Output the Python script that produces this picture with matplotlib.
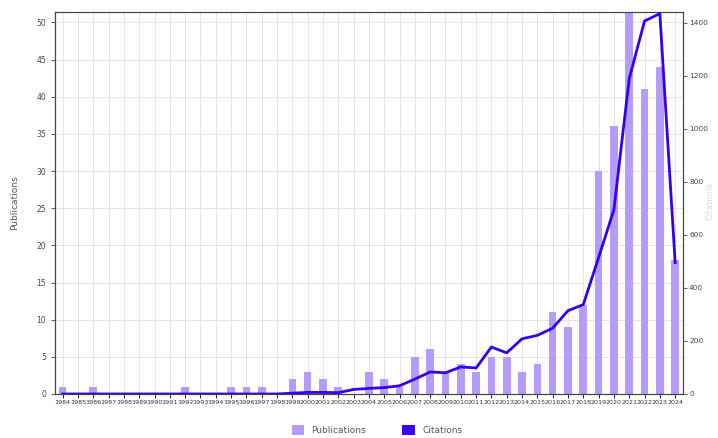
import matplotlib
matplotlib.use("Agg")
import matplotlib.pyplot as plt
from matplotlib.patches import Patch
import numpy as np

years = [str(y) for y in range(1984, 2025)]
publications = [1, 0, 1, 0, 0, 0, 0, 0, 1, 0, 0, 1, 1, 1, 0, 2, 3, 2, 1, 0,
                3, 2, 1, 5, 6, 3, 4, 3, 5, 5, 3, 4, 11, 9, 12, 30, 36, 56, 41, 44, 18]
citations = [0, 0, 0, 0, 0, 0, 0, 0, 0, 0, 0, 0, 0, 0, 0, 3, 6, 6, 5, 17,
             21, 24, 31, 56, 83, 80, 102, 98, 177, 155, 208, 221, 248, 314, 337, 514, 695, 1188, 1406, 1434, 495]

bar_color = "#b49cf8"
line_color = "#3300f0"

fig = plt.figure(figsize=(7.18, 4.38), dpi=100)
ax = fig.add_axes([0.0766, 0.1005, 0.8744, 0.8721])
x = np.arange(len(years))
ax.bar(x, publications, width=0.5, color=bar_color, zorder=2)
ax.set_xlim(-0.5, len(years) - 0.5)
ax.set_ylim(0, 51.4)
ax.set_yticks(range(0, 51, 5))
ax.set_xticks(x)
ax.set_xticklabels(years, fontsize=4.6, color="#333333")
ax.tick_params(axis="y", labelsize=5.5, colors="#444444", length=3, width=0.6)
ax.tick_params(axis="x", length=3, width=0.6, pad=1)
ax.grid(True, color="#e3e3e3", linewidth=0.7, zorder=0)
ax.set_axisbelow(True)
ax.set_ylabel("Publications", fontsize=6.5, color="#555555", labelpad=12)
for s in ax.spines.values():
    s.set_color("#444444")
    s.set_linewidth(0.8)

ax2 = ax.twinx()
ax2.plot(x, citations, color=line_color, linewidth=2.0, zorder=3)
ax2.set_ylim(0, 1440)
ax2.set_yticks(range(0, 1401, 200))
ax2.tick_params(axis="y", labelsize=5.3, colors="#444444", length=3, width=0.6, pad=1.5)
for s in ax2.spines.values():
    s.set_color("#444444")
    s.set_linewidth(0.8)
fig.text(0.989, 0.54, "Citations", rotation=90, fontsize=6.2, color="#dddddd",
         ha="center", va="center")

handles = [Patch(facecolor=bar_color, label="Publications"),
           Patch(facecolor="#3a00ff", label="Citations")]
fig.legend(handles=handles, loc="lower center", bbox_to_anchor=(0.525, -0.012), ncol=2,
           frameon=False, fontsize=6.5, handlelength=1.4, handleheight=1.4,
           columnspacing=4, labelcolor="#555555")

fig.savefig("out.png", dpi=100)
